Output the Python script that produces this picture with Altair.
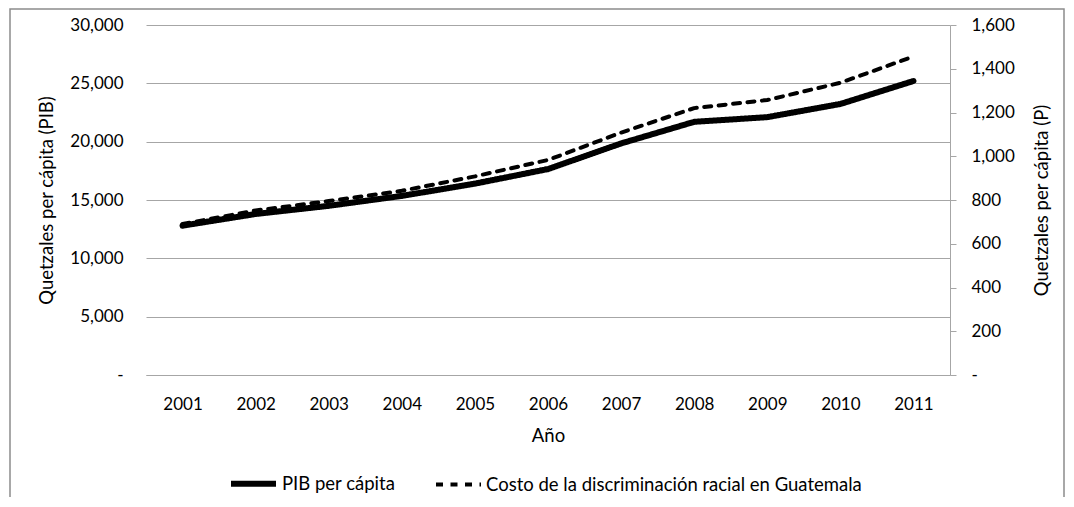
import altair as alt
import pandas as pd

years = ["2001", "2002", "2003", "2004", "2005", "2006", "2007", "2008", "2009", "2010", "2011"]
pib = [12800, 13800, 14500, 15350, 16400, 17650, 19850, 21700, 22100, 23230, 25200]
costo = [690, 752, 795, 842, 908, 983, 1108, 1220, 1257, 1336, 1456]

s_pib = "PIB per cápita"
s_costo = "Costo de la discriminación racial en Guatemala"
series = [s_pib, s_costo]
left_ticks = [0, 5000, 10000, 15000, 20000, 25000, 30000]
right_ticks = [0, 200, 400, 600, 800, 1000, 1200, 1400, 1600]

df = pd.DataFrame({"Año": years, s_pib: pib, s_costo: costo})

FONT = "Lato"
FS = 17
TFS = 18.5
LFS = 18.5
GRAY = "#a6a6a6"

label_expr = "datum.value == 0 ? '-' : format(datum.value, ',')"

legend = alt.Legend(orient="none", legendX=82, legendY=433, direction="horizontal",
                    title=None, symbolType="stroke", symbolSize=2025,
                    symbolStrokeColor="black", labelFont=FONT, labelFontSize=LFS,
                    labelColor="black", columnPadding=32, labelOffset=3, labelLimit=0)
dash = alt.StrokeDash("series:N", scale=alt.Scale(domain=series, range=[[1, 0], [7, 7.5]]), legend=legend)
width = alt.StrokeWidth("series:N", scale=alt.Scale(domain=series, range=[6, 4]), legend=legend)

x = alt.X("Año:O", scale=alt.Scale(type="point", padding=0.5),
          axis=alt.Axis(title="Año", labelAngle=0, ticks=False, domainColor=GRAY,
                        labelPadding=21, titlePadding=14, grid=False))

base = alt.Chart(df)

left = base.transform_fold([s_pib], as_=["series", "value"]).mark_line(
    color="black", strokeCap="round", strokeJoin="round"
).encode(
    x=x,
    y=alt.Y("value:Q", scale=alt.Scale(domain=[0, 30000], nice=False),
            axis=alt.Axis(title="Quetzales per cápita (PIB)", values=left_ticks, labelExpr=label_expr,
                          domain=False, ticks=False, grid=True, gridColor=GRAY,
                          labelPadding=23, titlePadding=13)),
    strokeDash=dash,
    strokeWidth=width,
)

right = base.transform_fold([s_costo], as_=["series", "value"]).mark_line(
    color="black", strokeCap="round", strokeJoin="round"
).encode(
    x=x,
    y=alt.Y("value:Q", scale=alt.Scale(domain=[0, 1600], nice=False),
            axis=alt.Axis(title="Quetzales per cápita (P)", orient="right", values=right_ticks,
                          labelExpr=label_expr, domain=True, domainColor=GRAY, ticks=True,
                          tickColor=GRAY, tickSize=6, grid=False, labelPadding=15,
                          titlePadding=37, titleAngle=270)),
    strokeDash=dash,
    strokeWidth=width,
)

border = alt.Chart(pd.DataFrame({"k": [1]})).mark_rect(
    fillOpacity=0, stroke="#8c8c8c", strokeWidth=1.5
).encode(x=alt.value(-136), x2=alt.value(918), y=alt.value(-16), y2=alt.value(480))

chart = alt.layer(left, right, border).resolve_scale(y="independent").properties(
    width=804, height=350,
    autosize=alt.AutoSizeParams(type="none"),
    padding={"left": 138, "top": 17, "right": 116, "bottom": 122},
).configure_view(stroke=None).configure_axis(
    labelFont=FONT, labelFontSize=FS, labelColor="black",
    titleFont=FONT, titleFontSize=TFS, titleColor="black", titleFontWeight="normal",
).configure_legend(labelFont=FONT, labelFontSize=LFS)

chart.save("out.html", embed_options={"renderer": "svg", "actions": False})
